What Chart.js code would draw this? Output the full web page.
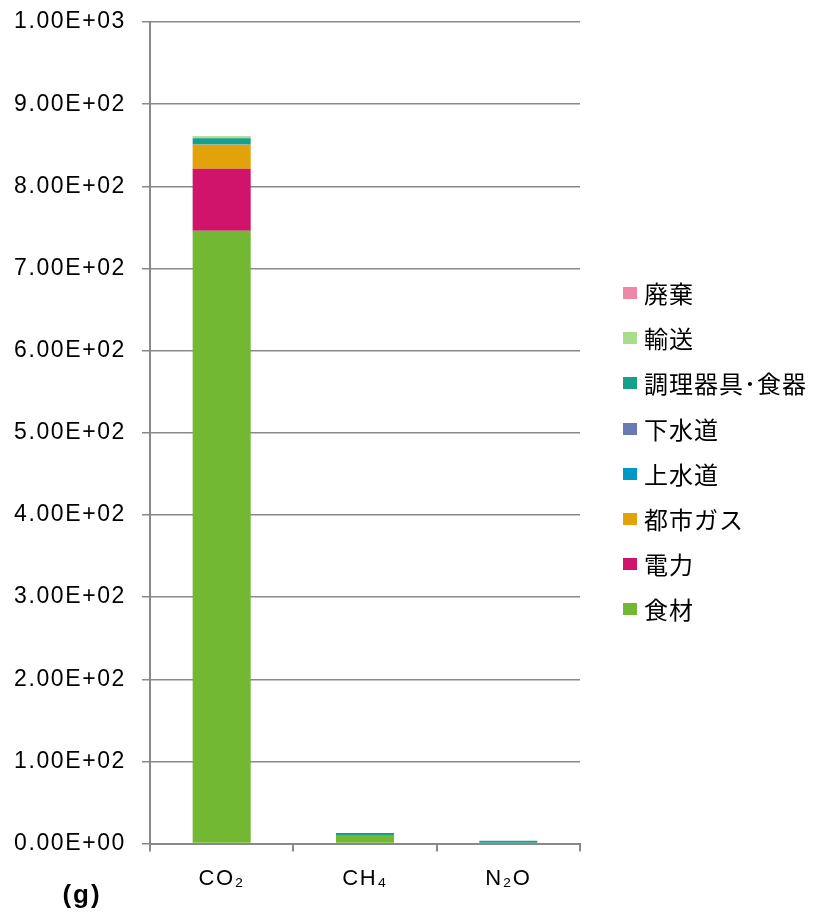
<!DOCTYPE html>
<html lang="ja">
<head>
  <meta charset="UTF-8" />
  <title>温室効果ガス排出量</title>
  <script src="https://cdn.jsdelivr.net/npm/chart.js"></script>
  <style>
    body { margin: 0; background: #fff; }
    #wrap { position: relative; width: 817px; height: 912px; }
    #legenda { position: absolute; left: 623px; top: 0; }
    .item { position: absolute; left: 0; white-space: nowrap; height: 24px; }
    .item i { position: absolute; left: 0; top: 6px; width: 14px; height: 12px; }
    .item span {
      position: absolute; left: 21px; top: 0;
      font: 24px/24px "Noto Sans CJK JP", sans-serif; letter-spacing: 1px; color: #000;
    }
  </style>
</head>
<body>
  <div id="wrap">
    <canvas id="grafico"></canvas>
    <div id="legenda"></div>
  </div>

  <script>
    // categorias e valores (g)
    const gases = ['CO₂', 'CH₄', 'N₂O'];
    const yTickLabels = ['0.00E+00', '1.00E+02', '2.00E+02', '3.00E+02', '4.00E+02', '5.00E+02',
                         '6.00E+02', '7.00E+02', '8.00E+02', '9.00E+02', '1.00E+03'];

    const shokuzai  = [746, 10.5, 0];
    const denryoku  = [75.5, 0, 0];
    const toshiGas  = [29, 0, 0];
    const jousuidou = [0.4, 0, 0];
    const gesuidou  = [0.3, 0, 0];
    const chouri    = [7.3, 2.3, 3.4];
    const yusou     = [2.4, 0, 0];
    const haiki     = [0.2, 0, 0];

    const series = [
      { label: '食材', data: shokuzai, color: '#72B832' },
      { label: '電力', data: denryoku, color: '#D0136B' },
      { label: '都市ガス', data: toshiGas, color: '#E2A209' },
      { label: '上水道', data: jousuidou, color: '#0098C5' },
      { label: '下水道', data: gesuidou, color: '#6879B6' },
      { label: '調理器具･食器', data: chouri, color: '#169F89' },
      { label: '輸送', data: yusou, color: '#A9DD8D' },
      { label: '廃棄', data: haiki, color: '#EF88A8' }
    ];

    const cinza = '#898989';

    // legenda em HTML, ordem invertida (廃棄 em cima)
    const legenda = document.getElementById('legenda');
    series.slice().reverse().forEach((s, i) => {
      const div = document.createElement('div');
      div.className = 'item';
      div.style.top = (281 + i * 45.2) + 'px';
      div.innerHTML = '<i style="background:' + s.color + '"></i><span>' + s.label + '</span>';
      legenda.appendChild(div);
    });

    // textos dos eixos com espaçamento entre letras + rótulo "(g)"
    const extras = {
      id: 'extras',
      beforeDraw(chart) {
        chart.ctx.letterSpacing = '1.6px';
      },
      afterDraw(chart) {
        const ctx = chart.ctx;
        ctx.save();
        ctx.letterSpacing = '2px';
        ctx.font = 'bold 26px "Liberation Sans", Arial, sans-serif';
        ctx.fillStyle = '#000';
        ctx.textAlign = 'center';
        ctx.textBaseline = 'middle';
        ctx.fillText('(g)', 82, 896);
        ctx.restore();
      }
    };

    new Chart(document.getElementById('grafico'), {
      type: 'bar',
      data: {
        labels: gases,
        datasets: series.map(s => ({
          label: s.label,
          data: s.data,
          backgroundColor: s.color,
          borderWidth: 0,
          barPercentage: 0.405,
          categoryPercentage: 1
        }))
      },
      options: {
        responsive: true,
        maintainAspectRatio: false,
        animation: false,
        layout: { padding: { top: 16, bottom: 6, left: 0, right: 237 } },
        plugins: {
          tooltip: { enabled: false },
          legend: { display: false }
        },
        scales: {
          x: {
            stacked: true,
            z: 1,
            grid: { drawOnChartArea: false, color: cinza, lineWidth: 2, tickLength: 8 },
            border: { color: cinza, width: 2 },
            ticks: {
              color: '#000',
              padding: 14,
              font: { family: '"Liberation Sans", Arial, sans-serif', size: 22 }
            }
          },
          y: {
            stacked: true,
            min: 0,
            max: 1000,
            grid: { color: cinza, lineWidth: 1.5, tickLength: 8 },
            border: { color: cinza, width: 2 },
            ticks: {
              stepSize: 100,
              color: '#000',
              padding: 16,
              font: { family: '"Liberation Sans", Arial, sans-serif', size: 23 },
              callback: (v, i) => yTickLabels[i]
            },
            afterFit(scale) {
              scale.width = 150;
              scale.paddingTop = 22;
            }
          }
        }
      },
      plugins: [extras]
    });
  </script>
</body>
</html>
